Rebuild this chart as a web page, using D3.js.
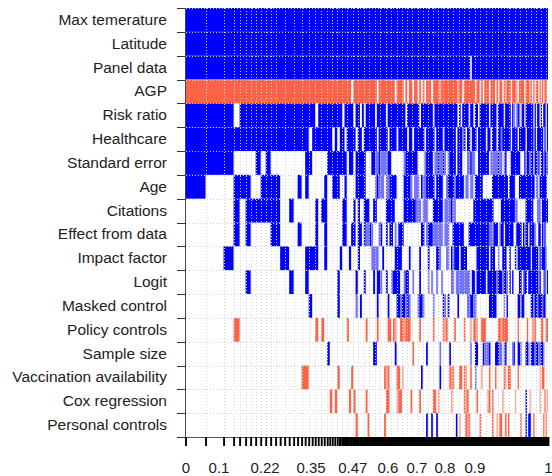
<!DOCTYPE html>
<html>
<head>
<meta charset="utf-8">
<script src="https://cdn.jsdelivr.net/npm/d3@7"></script>
<style>
  body { margin: 0; background: #fff; }
  text { font-family: "Liberation Sans", Arial, sans-serif; }
</style>
</head>
<body>
<svg id="chart" width="552" height="476"></svg>
<script>
// Variables (rows, top to bottom)
const variables = [
  "Max temerature", "Latitude", "Panel data", "AGP", "Risk ratio", "Healthcare",
  "Standard error", "Age", "Citations", "Effect from data", "Impact factor", "Logit",
  "Masked control", "Policy controls", "Sample size", "Vaccination availability",
  "Cox regression", "Personal controls"
];

// Posterior model probabilities, best model first (column widths)
const modelProbs = [
  0.0552, 0.0497, 0.0276, 0.0166, 0.0166, 0.0139, 0.0138, 0.0138, 0.0138, 0.0137,
  0.0137, 0.0125, 0.0124, 0.0124, 0.0123, 0.0110, 0.0110, 0.0098, 0.0097, 0.0096,
  0.0084, 0.0083, 0.0083, 0.0083, 0.0082, 0.0070, 0.0069, 0.0069, 0.0069, 0.0069,
  0.0068, 0.0062, 0.0061, 0.0061, 0.0061, 0.0061, 0.0061, 0.0061, 0.0060,
  // long tail of small models
  0.0053, 0.0053, 0.0052, 0.0052, 0.0052, 0.0051, 0.0051, 0.0051, 0.0050, 0.0050,
  0.0050, 0.0050, 0.0050, 0.0050, 0.0049, 0.0049, 0.0049, 0.0049, 0.0049, 0.0049,
  0.0049, 0.0049, 0.0049, 0.0048, 0.0048, 0.0048, 0.0048, 0.0048, 0.0048, 0.0048,
  0.0048, 0.0048, 0.0047, 0.0047, 0.0047, 0.0047, 0.0047, 0.0047, 0.0047, 0.0046,
  0.0046, 0.0046, 0.0046, 0.0046, 0.0046, 0.0045, 0.0045, 0.0045, 0.0045, 0.0045,
  0.0045, 0.0045, 0.0045, 0.0045, 0.0045, 0.0044, 0.0044, 0.0044, 0.0044, 0.0044,
  0.0044, 0.0044, 0.0044, 0.0044, 0.0044, 0.0043, 0.0043, 0.0043, 0.0043, 0.0043,
  0.0043, 0.0043, 0.0043, 0.0043, 0.0043, 0.0042, 0.0042, 0.0042, 0.0042, 0.0042,
  0.0040, 0.0040, 0.0040, 0.0040, 0.0040, 0.0039, 0.0039, 0.0039, 0.0039, 0.0039,
  0.0038, 0.0038, 0.0038, 0.0038, 0.0038, 0.0037, 0.0037, 0.0037, 0.0037, 0.0037,
  0.0036, 0.0036, 0.0036, 0.0036, 0.0036, 0.0035, 0.0035, 0.0035, 0.0035, 0.0035,
  0.0034, 0.0034, 0.0034, 0.0034, 0.0034, 0.0033, 0.0033, 0.0033, 0.0033, 0.0033
];

// Inclusion per variable and model: B/b positive (strong/weak), R/r negative, . excluded
const inclusion = [
  "BBBBBBBBBB BBBBBBBBBB BBBBBBBBBB BBBBBBBBB  BBBBBBBBBB BBBBBBBBBB BBBBBBBBBB BBBBBBBBBB BBBBBBBBBB BBBBBBBBBB BBBBBBBBBB BBBBBBBBBB BBBBBBBBBB BBBBBBBBBB BBBBBBBBBB BBBBBBBBBB",
  "BBBBBBBBBB BBBBBBBBBB BBBBBBBBBB BBBBBBBBB  BBBBBBBBBB BBBBBBBBBB BBBBBBBBBB BBBBBBBBBB BBBBBBBBBB BBBBBBBBBB BBBBBBBBBB BBBBBBBBBB BBBBBBBBBB BBBBBBBBBB BBBBBBBBBB BBBBBBBBBB",
  "BBBBBBBBBB BBBBBBBBBB BBBBBBBBBB BBBBBBBBB  BBBBBBBBBB BBBBBBBBBB BBBBBBBBBB BBBBBBBBBB BBBBBBBBBB BBBBBBBBBB BBBB.BBBBB BBBBBBBBBB BBBBBBBBBB BBBBBBBBBB BBBBBBBBBB BBBBBBBBBB",
  "RRRRRRRRRR RRRRRRRRRR RRRRRRRRRR RRRRR.RRR  RRRRRRRRR. RRRRRRRRR. RRRR.R.RR. RR.R.R.RRR .RRRRrRRRR RRRRRRrRR. RRRRRRR.RR .R.RRR.RRR .R.RR.RrRR R.RRRr.RRR R.RRRrR.R. RR.R.R.RR.",
  "BBB.BBBBBB BBBBBBBBBB B.BBBBBBBB B.BBBB.BB  .B.BBBBB.B BBBB.BBBBB BBBBB.BBBB BBB.BBBBBB B.BBBBBBBB BBBBBB.B.B BBB.BB.BB. BBBBBB.BBB B.BBBB.BBB B.Bb.bBb.B B.BBBBBB.B .BB.B.BB.B",
  "BBBBBBBBBB BBBBBBBBB. BBBBBBB.B. BB.BBBB.B  B.BBBBBBB. BBBBB.BBBB .BBBBB.BB. BBBBBB.BBB BB.BBBB.BB BBBBB.BBBb B.BB.BBB.B BBBB.BB.BB B.BBbBBBBB B.BBBB.BBB BB.BBBBBbB .BBBBB.B.B",
  "BBB....B.B ........BB .....BBBBB BBB.BB.BB  BBB...BBbb BbbbbBB... ....bBBBBB BB....bBBB B.bbBbbBb. bBBBB.BBB. ..bbBbb..B BBBBBB.bbb bbBbb.bB.. .BBBBBBB.. .BbBBbBB.B BbB.BBbBBb",
  "B..BBB..BB BB....B.B. ....B..BBB ..B....BB  BBB.....bB bbb.bbBBBB ....BBBBb. bbb.BbbBBB BB.BBBB..b BBBBbBBBBB .bb.bb.BBB BB......BB BBBBBBBBB. BBBB...BBB BBBBBBBBB. bb.BBBBBB.",
  "...B.BBBBB BB..B..... .B.BB..... .BB...B.B  ..BBB..BB. ....BBBBB. ....BBBBBB Bbbb.bbb.. .BBBBBB.bb bbBbb..... ......BBBB BBBBBBBBB. ....BBBBBB BBBBbb.... ..BBBBBB.. .bbb.BBBBB",
  "...B.B.... BB....B... .B..B..... .BB..BB.B  B.BbbBb... bB..B.BB.b .BBB...... ....BB.bBB Bbbbbbb.bb b..BBBBBBB ...BBBBBBB BBBBBBbbbB BB.bBB.BBB BBB..BBBB. BbBB.BBBBb ..BB.BbB..",
  "..B....... ..BB....BB BB..B..... B...B...B  ......bbbb ..B......B BBB....B.. ...B....B. ...BBb...b b.BbBBB.BB BB......BB BBBBBB.BBB ..b..BBB.. B...B.BBBB BBBBBB.BBB BB.BbBBBb.",
  ".....B.... ....B...B. .........B .......B.  ..B....B.B Bb..B..bBB BB..bBB..b ...B....b. b..b..b... ..bb.bbbbb bbbb.BB.BB BBBB.BBBBB BbBBBbBBb. B.B....BB. bBB.BBBBBB BBbB..bB.B",
  ".......... .........B .........B .......b.  B........B .....B.... BBbBBbBb.. ..bBBb.... .b.....Bb. B.....B... ..bbBBbb.. ......BBBB B.....b.B. ......BBbB B.....BBbB BbBBBbBB..",
  "...R...... .......... .R.R...... ...R.....  ...R.....R .....RR.Rr ..RRrRRR.. ...R...... .R.....RrR ....R..... R...r.RRr. .RRR...... ..RRrRRRR. ......R... ...R...rrR ....RR..RR",
  ".......... .......... .....B.... .........  .......BB. .........B .........R .......B.. .....b.... .B........ ....b..BB. ..BbbbB... BBBbb.bB.. ..bB..BBb. ..BBb.BBBb BBbbBBb...",
  ".......... .......RR. .........R .....R...  .......... ...RrR.... RR.r...... ....B..... .....B.... .RrR...RR. Rr..R..b.. .r....R... R.....Rr.R R.....R... .......... ...r.RR...",
  ".......... .......... ......R.R. ....R.R..  ...R...... ....RR.... rRR.....R. ...R...... .RR.r..... ..r....... RrR.....R. .....rR.R. .....r.... ....r..... ..B..r.... ...r...R.r",
  ".......... .......... .......... .......R.  ....R..... ...R...... .......... .......B.. B..B...... .....B.r.. .RrR...... R.......R. .r.RR..R.R ........R. ..B.BB..R. ......R.R."
];

// Bottom axis labels and where they sit (share of total model mass)
const axisLabels = ["0", "0.1", "0.22", "0.35", "0.47", "0.6", "0.7", "0.8", "0.9", "1"];
const axisLabelAt = [0, 0.091, 0.218, 0.345, 0.46, 0.557, 0.637, 0.714, 0.797, 1];

const colors = { B: "#0000ff", b: "#7474ff", R: "#ff6347", r: "#ffa28f" };

const svg = d3.select("#chart");
const nModels = modelProbs.length;
const total = d3.sum(modelProbs);
const cum = [0, ...d3.cumsum(modelProbs)];

const x = d3.scaleLinear().domain([0, total]).range([185.5, 548]);
const y = d3.scaleBand().domain(variables).range([8, 437]);

// Turn each inclusion string into runs of equal codes
const runs = [];
inclusion.forEach((s, i) => {
  let codes = s.replace(/\s+/g, "");
  codes = (codes + ".".repeat(nModels)).slice(0, nModels);
  let start = 0;
  for (let j = 1; j <= nModels; j++) {
    if (j === nModels || codes[j] !== codes[start]) {
      if (codes[start] !== ".") {
        runs.push({ variable: variables[i], code: codes[start], from: start, to: j });
      }
      start = j;
    }
  }
});

svg.append("g")
  .selectAll("rect")
  .data(runs)
  .join("rect")
  .attr("x", (d) => x(cum[d.from]))
  .attr("width", (d) => x(cum[d.to]) - x(cum[d.from]))
  .attr("y", (d) => y(d.variable))
  .attr("height", y.bandwidth())
  .attr("fill", (d) => colors[d.code]);

// Dotted grid: model boundaries (thinned where they crowd) and row boundaries
const gridX = [];
let last = -Infinity;
cum.forEach((c) => {
  const px = Math.round(x(c)) + 0.5;
  if (px - last >= 4.5) {
    gridX.push(px);
    last = px;
  }
});
const grid = svg.append("g")
  .attr("stroke", "#d2d2d2")
  .attr("stroke-width", 1)
  .attr("stroke-dasharray", "1,2")
  .attr("shape-rendering", "crispEdges");
grid.selectAll(".gv")
  .data(gridX.slice(1))
  .join("line")
  .attr("class", "gv")
  .attr("x1", (d) => d).attr("x2", (d) => d)
  .attr("y1", 8).attr("y2", 437);
const rowEdges = variables.map((v) => y(v)).concat([y.range()[1]]);
grid.selectAll(".gh")
  .data(rowEdges)
  .join("line")
  .attr("class", "gh")
  .attr("x1", 185.5).attr("x2", 548)
  .attr("y1", (d) => Math.round(d) + 0.5).attr("y2", (d) => Math.round(d) + 0.5);

// Left axis: labels at row centres, ticks at row edges
const yAxis = svg.append("g")
  .attr("transform", "translate(185,0)")
  .call(d3.axisLeft(y).tickSize(0).tickPadding(18));
yAxis.select(".domain").remove();
yAxis.selectAll("text")
  .attr("font-size", 15.5)
  .attr("font-family", "'Liberation Sans', Arial, sans-serif")
  .attr("fill", "#222");

svg.append("g")
  .attr("stroke", "#333")
  .selectAll("line")
  .data(rowEdges)
  .join("line")
  .attr("x1", 177).attr("x2", 185.5)
  .attr("y1", (d) => Math.round(d) + 0.5).attr("y2", (d) => Math.round(d) + 0.5);
svg.append("line")
  .attr("x1", 185.5).attr("x2", 185.5)
  .attr("y1", 8).attr("y2", 437)
  .attr("stroke", "#444");

// Bottom axis: a tick at every model boundary (crowded ticks drawn wider so they merge)
const xTicks = svg.append("g")
  .attr("transform", "translate(0,437)")
  .call(d3.axisBottom(x).tickValues(cum).tickFormat("").tickSize(9).tickSizeOuter(0));
xTicks.select(".domain").attr("stroke", "#555");
xTicks.selectAll(".tick line")
  .attr("stroke", "#000")
  .attr("stroke-width", (d, i) => {
    const gap = i < nModels ? x(cum[i + 1]) - x(cum[i]) : 9;
    return gap < 2.5 ? 2.6 : 1.9;
  });

const xLabels = svg.append("g")
  .attr("transform", "translate(0,437)")
  .call(d3.axisBottom(x)
    .tickValues(axisLabelAt.map((p) => p * total))
    .tickFormat((d, i) => axisLabels[i])
    .tickSize(0)
    .tickPadding(25));
xLabels.select(".domain").remove();
xLabels.selectAll("text")
  .attr("font-size", 15)
  .attr("font-family", "'Liberation Sans', Arial, sans-serif")
  .attr("fill", "#222");
</script>
</body>
</html>
